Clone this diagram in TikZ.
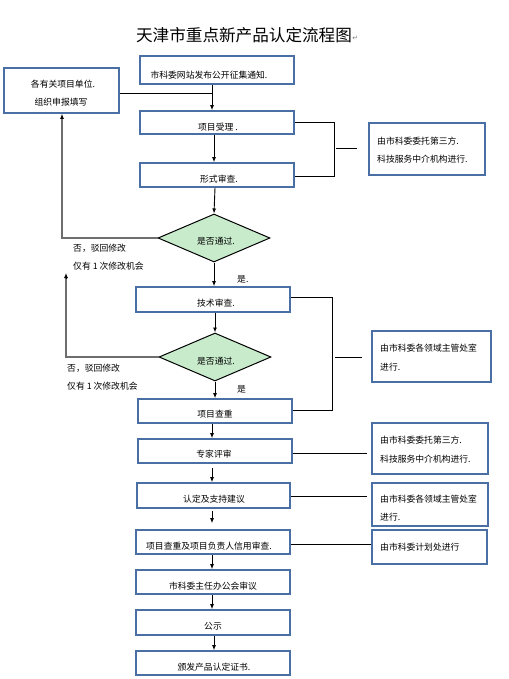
\documentclass[tikz,border=0pt]{standalone}
\usepackage{fontspec}
\setmainfont{Noto Sans CJK SC}
\newfontfamily\symfont{DejaVu Sans}
\usetikzlibrary{arrows.meta,shapes.geometric}
\definecolor{boxblue}{HTML}{4A6FA5}
\definecolor{dgreen}{HTML}{C8EBCB}
\definecolor{fbgray}{HTML}{6E6E6E}
\tikzset{
  box/.style={draw=boxblue, line width=1.7pt, fill=white, inner sep=0pt},
  dia/.style={diamond, draw=black, line width=1pt, fill=dgreen, inner sep=0pt, minimum width=112pt, minimum height=48pt, aspect=2.33},
  txt/.style={font=\fontsize{8.8}{10}\selectfont, inner sep=0pt},
  ltxt/.style={txt, anchor=west},
  arr/.style={-{Latex[length=5pt,width=4pt]}, line width=0.9pt, black},
  conn/.style={line width=0.9pt, black},
  fb/.style={line width=1.2pt, fbgray},
}
\begin{document}
\begin{tikzpicture}[x=1pt,y=-1pt]
\useasboundingbox (0,0) rectangle (508,679);
% title
\node[inner sep=0pt, font=\fontsize{16.6}{18}\selectfont] (title) at (244,35) {天津市重点新产品认定流程图};
\node[inner sep=0pt, anchor=west, font=\symfont\fontsize{7}{8}\selectfont, text=gray] (pm) at ([yshift=-3pt]title.east) {↵};
% main boxes
\node[box, minimum width=154pt, minimum height=28pt] (b1) at (217,70) {};
\node[txt] (b1t) at (209,75) {市科委网站发布公开征集通知.};
\node[box, minimum width=154pt, minimum height=23pt] (b2) at (217,122.5) {};
\node[txt] (b2t) at (218,127) {项目受理 .};
\node[box, minimum width=154pt, minimum height=24pt] (b3) at (217,175) {};
\node[txt] (b3t) at (219,179) {形式审查.};
\node[box, minimum width=154pt, minimum height=25pt] (b4) at (213,299.5) {};
\node[txt] (b4t) at (216,303) {技术审查.};
\node[box, minimum width=154pt, minimum height=24pt] (b5) at (215,411) {};
\node[txt] (b5t) at (215,414) {项目查重};
\node[box, minimum width=154pt, minimum height=24pt] (b6) at (215,451) {};
\node[txt] (b6t) at (214,454) {专家评审};
\node[box, minimum width=153pt, minimum height=25pt] (b7) at (213.5,495.5) {};
\node[txt] (b7t) at (214,499) {认定及支持建议};
\node[box, minimum width=154pt, minimum height=24pt] (b8) at (213,542) {};
\node[txt] (b8t) at (209,546) {项目查重及项目负责人信用审查.};
\node[box, minimum width=154pt, minimum height=24pt] (b9) at (213,582) {};
\node[txt] (b9t) at (213,586) {市科委主任办公会审议};
\node[box, minimum width=154pt, minimum height=25pt] (b10) at (213,622.5) {};
\node[txt] (b10t) at (213,626) {公示};
\node[box, minimum width=154pt, minimum height=24pt] (b11) at (213,663) {};
\node[txt] (b11t) at (214,667) {颁发产品认定证书.};
% diamonds
\node[dia] (d1) at (214,238) {};
\node[txt] (d1t) at (216,241) {是否通过.};
\node[dia] (d2) at (215,357) {};
\node[txt] (d2t) at (216,361) {是否通过.};
% left box
\node[box, minimum width=115pt, minimum height=45pt] (lb) at (61.5,90.5) {};
\node[txt] (lbt1) at (63,84) {各有关项目单位.};
\node[txt] (lbt2) at (61,102) {组织申报填写};
% right boxes
\node[box, minimum width=116pt, minimum height=52pt] (r1) at (427,149) {};
\node[ltxt] (r1a) at (377,141) {由市科委委托第三方.};
\node[ltxt] (r1b) at (377,159) {科技服务中介机构进行.};
\node[box, minimum width=119pt, minimum height=51pt] (r2) at (431.5,356.5) {};
\node[ltxt] (r2a) at (380,348) {由市科委各领域主管处室};
\node[ltxt] (r2b) at (380,367) {进行.};
\node[box, minimum width=116pt, minimum height=51pt] (r3) at (430,448.5) {};
\node[ltxt] (r3a) at (380,440) {由市科委委托第三方.};
\node[ltxt] (r3b) at (380,459) {科技服务中介机构进行.};
\node[box, minimum width=116pt, minimum height=43pt] (r4) at (430,504.5) {};
\node[ltxt] (r4a) at (380,499) {由市科委各领域主管处室};
\node[ltxt] (r4b) at (380,517) {进行.};
\node[box, minimum width=115pt, minimum height=34pt] (r5) at (429.5,547) {};
\node[ltxt] (r5a) at (380,547) {由市科委计划处进行};
% side labels
\node[ltxt] (n1a) at (73,248) {否，驳回修改};
\node[ltxt] (n1b) at (73,266) {仅有 1 次修改机会};
\node[ltxt] (n2a) at (67,368) {否，驳回修改};
\node[ltxt] (n2b) at (67,386) {仅有 1 次修改机会};
\node[ltxt] (y1) at (237,279) {是.};
\node[ltxt] (y2) at (237,389) {是};
% main flow arrows
\draw[arr] (b1.south -| 212,0) -- (b2.north -| 212,0);
\coordinate (j1) at (212,93);
\draw[conn] (lb.east |- j1) -- (j1);
\draw[arr] (b2.south -| 214,0) -- (b3.north -| 214,0);
\draw[arr] (b3.south -| 215,0) -- (d1.north);
\draw[arr] (d1.south) -- (b4.north -| 214,0);
\draw[arr] (b4.south -| 215,0) -- (d2.north);
\draw[arr] (d2.south) -- (b5.north -| 215,0);
\draw[arr] (b5.south -| 212,0) -- (b6.north -| 212,0);
\draw[arr] ([yshift=-4pt]b6.south -| 212,0) -- (b7.north -| 212,0);
\draw[arr] ([yshift=-2pt]b7.south -| 212,0) -- ([yshift=6pt]b8.north -| 212,0);
\draw[arr] (b8.south -| 212,0) -- (b9.north -| 212,0);
\draw[arr] (b9.south -| 212,0) -- (b10.north -| 212,0);
\draw[arr] (b10.south -| 214,0) -- (b11.north -| 214,0);
% feedback
\draw[fb] (d1.west) -| (62,117);
\draw[arr] (62,118) -- (lb.south -| 62,0);
\draw[fb] (d2.west) -| (66,278);
\draw[arr] (66,279) -- (66,273);
% brackets
\draw[conn] (b2.east |- 0,122) -- (334,122) -- (334,176) -- (b3.east |- 0,176);
\coordinate (m1) at (336,148);
\draw[conn] (m1) -- ([xshift=-11pt]r1.west |- m1);
\draw[conn] (b4.east |- 0,297) -- (332,297) -- (332,410) -- (b5.east |- 0,410);
\coordinate (m2) at (335,357);
\draw[conn] (m2) -- ([xshift=-9pt]r2.west |- m2);
\draw[conn] (b6.east |- 0,453) -- ([xshift=-4pt]r3.west |- 0,453);
\draw[conn] (b7.east |- 0,496) -- ([xshift=-4pt]r4.west |- 0,496);
\draw[conn] (b8.east |- 0,544) -- (r5.west |- 0,544);
\end{tikzpicture}
\end{document}
